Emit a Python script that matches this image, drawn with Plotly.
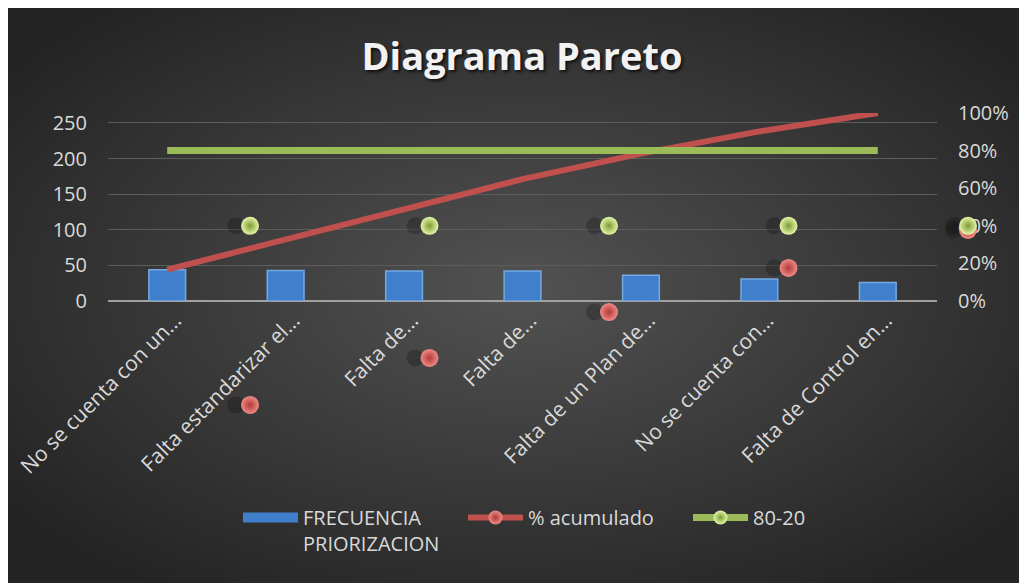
import base64
import plotly.graph_objects as go

# data
categorias = [
    "No se cuenta con un…",
    "Falta estandarizar el…",
    "Falta de…",
    "Falta de…",
    "Falta de un Plan de…",
    "No se cuenta con…",
    "Falta de Control en…",
]
frecuencia = [44, 43, 42, 42, 36, 31, 26]
pct_acumulado = [0.167, 0.330, 0.489, 0.648, 0.784, 0.902, 1.0]
linea_80_20 = [0.8, 0.8, 0.8, 0.8, 0.8, 0.8, 0.8]

# stray sphere markers that Excel drew on its own hidden axis
marcas_x = [1, 2, 3, 4, 5]
marcas_rojas = [-0.553, -0.303, -0.059, 0.176, 0.378]
marcas_verdes = [0.40, 0.40, 0.40, 0.40, 0.40]

pos = list(range(len(categorias)))
FONT = "Open Sans"
TXT = "#d9d9d9"
ROJO = "#c0504d"
VERDE = "#9bbb59"
AZUL = "#3f7fcc"

# page geometry (px): plot frame 100..929 x 105..293, paper area extended for stray markers
L, R, T, B = 100, 37, 105, 133
PW, PH = 1027 - L - R, 583 - T - B

# dark radial gradient background (Excel style)
svg = (
    "<svg xmlns='http://www.w3.org/2000/svg' width='1027' height='583' preserveAspectRatio='none'>"
    "<defs><radialGradient id='g' cx='50%' cy='48%' r='62%'>"
    "<stop offset='0' stop-color='#525252'/><stop offset='1' stop-color='#242424'/>"
    "</radialGradient></defs><rect width='100%' height='100%' fill='url(#g)'/></svg>"
)
bg_src = "data:image/svg+xml;base64," + base64.b64encode(svg.encode()).decode()

fig = go.Figure()

fig.add_trace(go.Bar(
    x=pos, y=frecuencia, name="FRECUENCIA<br>PRIORIZACION", showlegend=False,
    width=0.31,
    marker=dict(color=AZUL, line=dict(color="#75a9e4", width=1.5)),
))

fig.add_trace(go.Scatter(
    x=pos, y=pct_acumulado, yaxis="y2", mode="lines", showlegend=False,
    line=dict(color=ROJO, width=6), cliponaxis=False,
))

fig.add_trace(go.Scatter(
    x=pos, y=linea_80_20, yaxis="y2", mode="lines", showlegend=False,
    line=dict(color=VERDE, width=7), cliponaxis=False,
))

# legend entries
fig.add_trace(go.Scatter(
    x=[None], y=[None], name="FRECUENCIA<br>PRIORIZACION", mode="lines",
    line=dict(color=AZUL, width=12),
))
fig.add_trace(go.Scatter(
    x=[None], y=[None], name="% acumulado", mode="lines+markers",
    line=dict(color=ROJO, width=6),
    marker=dict(size=14, color="#f08a86", gradient=dict(type="radial", color="#b03a36")),
))
fig.add_trace(go.Scatter(
    x=[None], y=[None], name="80-20", mode="lines+markers",
    line=dict(color=VERDE, width=7),
    marker=dict(size=14, color="#e4f5a8", gradient=dict(type="radial", color="#7d9c34")),
))

# shadows + stray sphere markers
for ys in (marcas_rojas, marcas_verdes):
    fig.add_trace(go.Scatter(
        x=[v - 0.08 for v in marcas_x], y=ys, xaxis="x3", yaxis="y3",
        mode="markers", showlegend=False, hoverinfo="skip", cliponaxis=False,
        marker=dict(size=17, color="rgba(0,0,0,0.22)", line=dict(width=0)),
    ))
fig.add_trace(go.Scatter(
    x=marcas_x, y=marcas_rojas, xaxis="x3", yaxis="y3",
    mode="markers", showlegend=False, cliponaxis=False,
    marker=dict(size=18, color="#f08a86", gradient=dict(type="radial", color="#b03a36"),
                line=dict(width=0)),
))
fig.add_trace(go.Scatter(
    x=marcas_x, y=marcas_verdes, xaxis="x3", yaxis="y3",
    mode="markers", showlegend=False, cliponaxis=False,
    marker=dict(size=18, color="#e4f5a8", gradient=dict(type="radial", color="#7d9c34")),
))

x_dom_end = (929 - L) / PW
y_dom_start = (583 - B - 293) / PH
px_per_unit = 179.5          # spacing of the stray markers
r0 = 1 - (242 - L) / px_per_unit
y3_lo = -(583 - B - 293) / 188

fig.update_layout(
    width=1027, height=583,
    margin=dict(l=L, r=R, t=T, b=B),
    paper_bgcolor="#2e2e2e",
    plot_bgcolor="rgba(0,0,0,0)",
    font=dict(family=FONT, size=20, color=TXT),
    title=dict(
        text="<b>Diagrama Pareto</b>",
        font=dict(family=FONT, size=38, color="#f2f2f2", shadow="2px 2px 3px rgba(0,0,0,0.7)"),
        x=514 / 1027, xanchor="center", xref="container",
        y=1 - 49 / 583, yanchor="middle", yref="container",
    ),
    xaxis=dict(
        domain=[0, x_dom_end], anchor="y",
        range=[-0.5, 6.5], tickvals=pos, ticktext=categorias, tickangle=-45,
        showgrid=False, zeroline=False, showline=False, automargin=False,
        tickfont=dict(size=21, color=TXT), ticklabelstandoff=2, ticklabelshift=8,
    ),
    yaxis=dict(
        domain=[y_dom_start, 1], anchor="x",
        range=[0, 264], tick0=0, dtick=50, automargin=False,
        showgrid=True, gridcolor="#5c5c5c", gridwidth=1,
        zeroline=True, zerolinecolor="#a0a0a0", zerolinewidth=2,
        showline=False, ticklabelstandoff=20,
    ),
    yaxis2=dict(
        overlaying="y", side="right", anchor="x", range=[0, 1], tick0=0, dtick=0.2,
        tickformat=".0%", showgrid=False, zeroline=False, showline=False,
        automargin=False, ticklabelstandoff=20,
    ),
    xaxis3=dict(domain=[0, 1], anchor="y3", range=[r0, r0 + PW / px_per_unit], visible=False),
    yaxis3=dict(domain=[0, 1], anchor="x3", range=[y3_lo, 1.0], visible=False),
    legend=dict(
        orientation="h", x=230 / 1027, xanchor="left", xref="container",
        y=1 - 490 / 583, yanchor="top", yref="container",
        bgcolor="rgba(0,0,0,0)", font=dict(size=20, color=TXT),
        valign="top", traceorder="normal", itemwidth=55, entrywidth=155,
    ),
    showlegend=True,
    images=[dict(
        source=bg_src, xref="paper", yref="paper",
        x=-L / PW, y=(PH + T) / PH,
        sizex=1027 / PW, sizey=583 / PH,
        xanchor="left", yanchor="top", sizing="stretch", layer="below",
    )],
)

fig.write_html("out.html")
